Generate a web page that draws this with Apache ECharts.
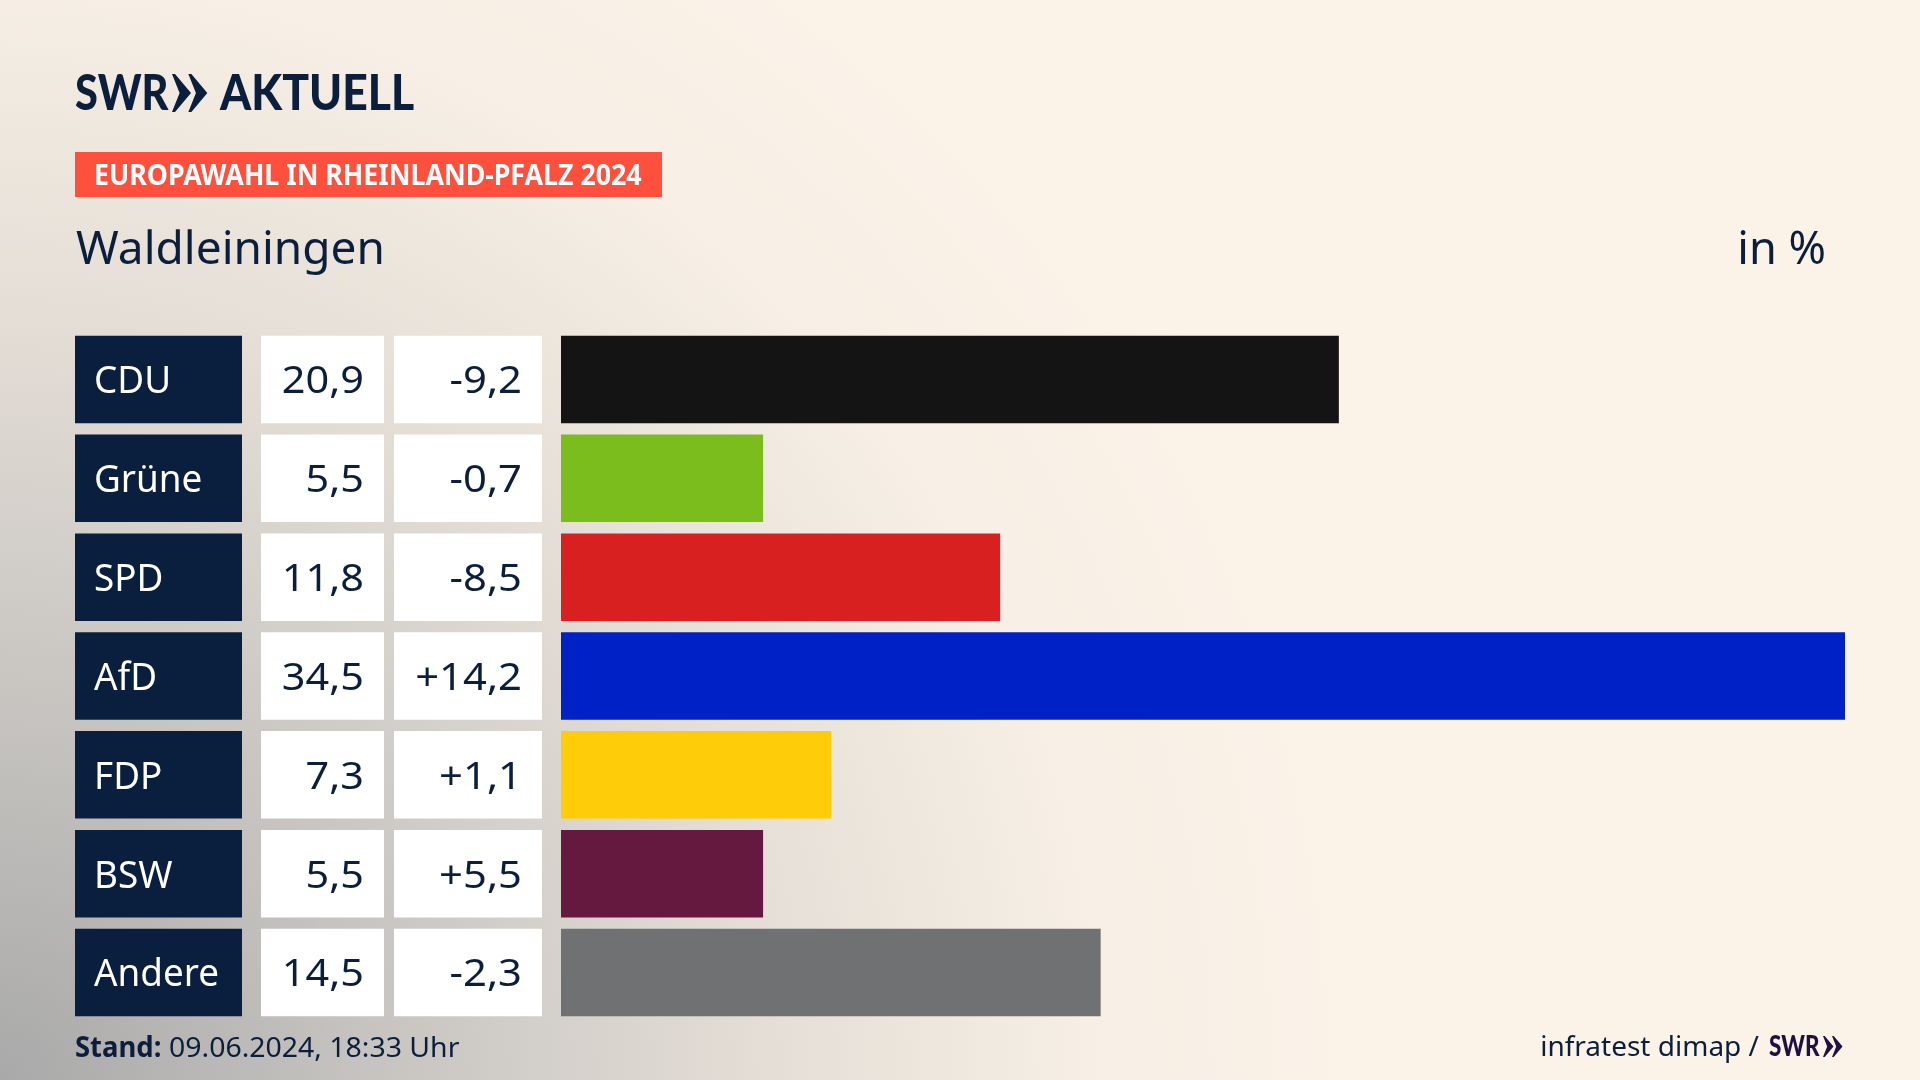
<!DOCTYPE html>
<html>
<head>
<meta charset="utf-8">
<style>html,body{margin:0;padding:0;background:#fbf2e8}#chart{width:1920px;height:1080px}</style>
<script src="https://cdn.jsdelivr.net/npm/echarts@6/dist/echarts.min.js"></script>
</head>
<body>
<div id="chart"></div>
<script>
const parties = ['CDU', 'Grüne', 'SPD', 'AfD', 'FDP', 'BSW', 'Andere']
// printed labels
const shareLabels = ['20,9', '5,5', '11,8', '34,5', '7,3', '5,5', '14,5']
const changeLabels = ['-9,2', '-0,7', '-8,5', '+14,2', '+1,1', '+5,5', '-2,3']
// bar lengths as measured, the source draws them unrounded
const shares = [20.9, 5.43, 11.8, 34.5, 7.26, 5.43, 14.5]
const barColors = ['#141414', '#7abd1c', '#d7201f', '#0021c6', '#ffcc0a', '#66193e', '#707173']

const NAVY = '#0b1f3d'
const FONT = '"Noto Sans"'
const ROW_H = 87.5

const chart = echarts.init(document.getElementById('chart'))

// name box, share box, change box next to every bar
const renderCells = (params, api) => {
    const i = api.value(1)
    const cy = api.coord([0, i])[1]
    const top = cy - ROW_H / 2
    const cell = (x, w, color) => ({type: 'rect', shape: {x, y: top, width: w, height: ROW_H}, style: {fill: color}})
    const label = (x, text, align, color, sx) => ({
        type: 'text', x, y: cy + 3, scaleX: sx,
        style: {text, align, verticalAlign: 'middle', fill: color, font: `400 38px ${FONT}`}
    })
    return {type: 'group', children: [
        cell(75, 167, '#0a1f3e'),
        cell(261, 123, '#ffffff'),
        cell(394, 148, '#ffffff'),
        label(94, parties[i], 'left', '#ffffff', 0.97),
        label(364, shareLabels[i], 'right', NAVY, 1.09),
        label(522, changeLabels[i], 'right', NAVY, 1.1)
    ]}
}

const chevrons = (x, y, h, color) => {
    const one = x0 => ({
        type: 'polygon',
        shape: {points: [
            [x0, y], [x0 + h * 0.08, y], [x0 + h * 0.5, y + h / 2],
            [x0 + h * 0.08, y + h], [x0, y + h], [x0 + h * 0.2, y + h / 2]
        ]},
        style: {fill: color}
    })
    return [one(x), one(x + h * 0.43)]
}

chart.setOption({
    animation: false,
    backgroundColor: new echarts.graphic.RadialGradient(0, 1080, 1400, [
        {offset: 0, color: '#a9a9a9'},
        {offset: 0.3, color: '#cac7c3'},
        {offset: 0.55, color: '#e4ded6'},
        {offset: 0.78, color: '#f7efe5'},
        {offset: 1, color: '#fbf2e8'}
    ], true),
    grid: {left: 561, top: 330, width: 1284, height: 692},
    xAxis: {type: 'value', min: 0, max: 34.5, show: false},
    yAxis: {type: 'category', data: parties, inverse: true, show: false},
    series: [
        {
            type: 'bar',
            barWidth: ROW_H,
            silent: true,
            data: shares.map((v, i) => ({value: v, itemStyle: {color: barColors[i]}}))
        },
        {
            type: 'custom',
            silent: true,
            clip: false,
            renderItem: renderCells,
            encode: {x: 0, y: 1},
            data: parties.map((p, i) => [0, i])
        }
    ],
    graphic: [
        {type: 'text', x: 75, y: 94, scaleX: 0.83, style: {text: 'SWR', font: '900 50px Lato', fill: NAVY, verticalAlign: 'middle'}},
        ...chevrons(172, 74, 38, NAVY),
        {type: 'text', x: 220, y: 94, scaleX: 0.89, style: {text: 'AKTUELL', font: '900 50px Lato', fill: NAVY, verticalAlign: 'middle'}},
        {type: 'rect', shape: {x: 75, y: 152, width: 587, height: 45}, style: {fill: '#ff4f3d'}},
        {type: 'text', x: 94, y: 177, scaleX: 0.955, style: {text: 'EUROPAWAHL IN RHEINLAND-PFALZ 2024', font: `700 28px ${FONT}`, fill: '#fff', verticalAlign: 'middle'}},
        {type: 'text', x: 76, y: 251, style: {text: 'Waldleiningen', font: `400 46px ${FONT}`, fill: NAVY, verticalAlign: 'middle'}},
        {type: 'text', x: 1826, y: 251, scaleX: 0.98, style: {text: 'in %', font: `400 46px ${FONT}`, fill: NAVY, align: 'right', verticalAlign: 'middle'}},
        {type: 'text', x: 75, y: 1049, scaleX: 0.98, style: {text: 'Stand:', font: `700 28px ${FONT}`, fill: NAVY, verticalAlign: 'middle'}},
        {type: 'text', x: 169, y: 1049, scaleX: 1.015, style: {text: '09.06.2024, 18:33 Uhr', font: `400 28px ${FONT}`, fill: NAVY, verticalAlign: 'middle'}},
        {type: 'text', x: 1759, y: 1048, style: {text: 'infratest dimap /', font: `400 28px ${FONT}`, fill: NAVY, align: 'right', verticalAlign: 'middle'}},
        {type: 'text', x: 1769, y: 1047, scaleX: 0.8, style: {text: 'SWR', font: '900 28px Lato', fill: '#1f0f45', verticalAlign: 'middle'}},
        ...chevrons(1823, 1036, 21, '#1f0f45')
    ]
})
</script>
</body>
</html>
